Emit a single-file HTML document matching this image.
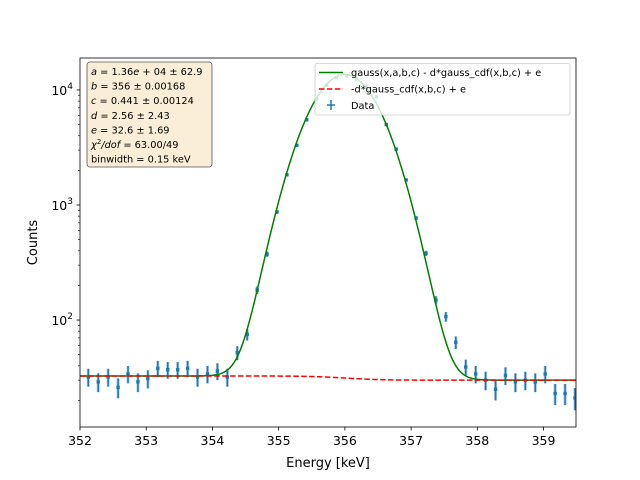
<!DOCTYPE html>
<html><head><meta charset="utf-8"><style>
body{margin:0;background:#fff}
svg{display:block;font-family:"DejaVu Sans","Liberation Sans",sans-serif}
</style></head><body>
<svg id="chart" width="640" height="480" viewBox="0 0 640 480" xmlns="http://www.w3.org/2000/svg"></svg>
<script>
const binCenters = [352.125,352.275,352.425,352.575,352.725,352.875,353.025,353.175,353.325,353.475,353.625,353.775,353.925,354.075,354.225,354.375,354.525,354.675,354.825,354.975,355.125,355.275,355.425,355.575,355.725,355.875,356.025,356.175,356.325,356.475,356.625,356.775,356.925,357.075,357.225,357.375,357.525,357.675,357.825,357.975,358.125,358.275,358.425,358.575,358.725,358.875,359.025,359.175,359.325,359.475];
const counts = [32,29,32,26,34,29,31,38,37,37,38,32,34,36,32,52,75,182,374,870,1830,3300,5500,8300,11000,12800,13300,12500,10800,8700,5000,3060,1650,770,380,149,107,64,39,34,30,25,33,29,30,29,34,23,23,21];
const fitA = 13600, fitB = 356, fitC = 0.441, fitD = 2.56, fitE = 32.6;
const xTicks = [352,353,354,355,356,357,358,359];
const yMajor = [2,3,4];

const svg = document.getElementById('chart');
const NS = 'http://www.w3.org/2000/svg';
const L=80,R=576,T=58,B=427;
const xMin=352,xMax=359.49,yLogMin=1.07,yLogMax=4.278;
const X=v=>L+(v-xMin)/(xMax-xMin)*(R-L);
const Y=v=>B-(Math.log10(v)-yLogMin)/(yLogMax-yLogMin)*(B-T);
function mk(tag,attrs,parent){const e=document.createElementNS(NS,tag);for(const k in attrs)e.setAttribute(k,attrs[k]);(parent||svg).appendChild(e);return e;}
function erf(x){const s=Math.sign(x);x=Math.abs(x);const t=1/(1+0.3275911*x);const y=1-(((((1.061405429*t-1.453152027)*t)+1.421413741)*t-0.284496736)*t+0.254829592)*t*Math.exp(-x*x);return s*y;}
const cdf=x=>0.5*(1+erf((x-fitB)/(fitC*Math.SQRT2)));
const gauss=x=>fitA*Math.exp(-((x-fitB)**2)/(2*fitC*fitC));

const clip=mk('clipPath',{id:'pc'});mk('rect',{x:L,y:T,width:R-L,height:B-T},clip);
const plot=mk('g',{'clip-path':'url(#pc)'});



const dataG=mk('g',{},plot);


binCenters.forEach((x,i)=>{
  const n=counts[i],s=Math.sqrt(n);
  const g=mk('g',{},dataG);
  
  
  mk('line',{x1:X(x),x2:X(x),y1:Y(n+s),y2:Y(Math.max(n-s,1)),stroke:'#a9c9e4','stroke-width':3},g);
  mk('line',{x1:X(x),x2:X(x),y1:Y(n+s),y2:Y(Math.max(n-s,1)),stroke:'#1f77b4','stroke-width':1.5},g);
  mk('rect',{x:X(x)-1.7,y:Y(n)-1.7,width:3.4,height:3.4,fill:'#1f77b4'},g);
});
let pg='',pr='';
for(let i=0;i<=600;i++){const x=xMin+(xMax-xMin)*i/600;const base=fitE-fitD*cdf(x);
  pg+=(i?'L':'M')+X(x).toFixed(2)+','+Y(gauss(x)+base).toFixed(2);
  pr+=(i?'L':'M')+X(x).toFixed(2)+','+Y(base).toFixed(2);}
const gc=mk('path',{d:pg,fill:'none',stroke:'#008000','stroke-width':1.5},plot);


const rc=mk('path',{d:pr,fill:'none',stroke:'#ff0000','stroke-width':1.5,'stroke-dasharray':'5.5,2.4'},plot);



const fr=mk('rect',{x:L,y:T,width:R-L,height:B-T,fill:'none',stroke:'#000','stroke-width':0.8});


xTicks.forEach(t=>{
  mk('line',{x1:X(t),x2:X(t),y1:B,y2:B+3.5,stroke:'#000','stroke-width':0.8});
  const tx=mk('text',{x:X(t),y:B+18,'font-size':12.5,'text-anchor':'middle'});tx.textContent=t;
  
  
});
for(let d=1;d<=4;d++)for(let m=1;m<10;m++){const v=m*10**d;const lv=Math.log10(v);if(lv<yLogMin||lv>yLogMax)continue;
  mk('line',{x1:L-(m===1?3.5:2),x2:L,y1:Y(v),y2:Y(v),stroke:'#000','stroke-width':m===1?0.8:0.6});}
yMajor.forEach(p=>{
  const tx=mk('text',{x:L-7,y:Y(10**p)+5,'font-size':12.5,'text-anchor':'end'});
  tx.innerHTML='10<tspan dy="-6" font-size="9">'+p+'</tspan>';
  
  
});
const xl=mk('text',{x:(L+R)/2,y:467,'font-size':13,'text-anchor':'middle'});xl.textContent='Energy [keV]';


const yl=mk('text',{x:0,y:0,'font-size':13,'text-anchor':'middle',transform:`translate(37,${(T+B)/2}) rotate(-90)`});yl.textContent='Counts';



const lg=mk('g',{});


mk('rect',{x:315,y:63.5,width:255,height:51.5,rx:2,fill:'#fff','fill-opacity':0.8,stroke:'#ccc','stroke-width':0.8},lg);
mk('line',{x1:319,x2:343,y1:72.5,y2:72.5,stroke:'#008000','stroke-width':1.5},lg);
mk('line',{x1:319,x2:343,y1:89,y2:89,stroke:'#ff0000','stroke-width':1.5,'stroke-dasharray':'5.5,2.4'},lg);
mk('line',{x1:331,x2:331,y1:100,y2:110,stroke:'#1f77b4','stroke-width':1.5},lg);
mk('line',{x1:327,x2:335,y1:105,y2:105,stroke:'#1f77b4','stroke-width':1.5},lg);
[['gauss(x,a,b,c) - d*gauss_cdf(x,b,c) + e',76,'legend-entry-fit'],['-d*gauss_cdf(x,b,c) + e',92.5,'legend-entry-background'],['Data',109,'legend-entry-data']].forEach(([s,y,n])=>{
  const t=mk('text',{x:351,y:y,'font-size':9.8},lg);t.textContent=s;
  
  
});

const pb=mk('g',{});


mk('rect',{x:87,y:62,width:125,height:105,rx:3,fill:'#f5deb3','fill-opacity':0.5,stroke:'#555','stroke-width':0.8},pb);
const lines=[
 '<tspan font-style="italic">a</tspan> = 1.36<tspan font-style="italic">e</tspan> + 04 ± 62.9',
 '<tspan font-style="italic">b</tspan> = 356 ± 0.00168',
 '<tspan font-style="italic">c</tspan> = 0.441 ± 0.00124',
 '<tspan font-style="italic">d</tspan> = 2.56 ± 2.43',
 '<tspan font-style="italic">e</tspan> = 32.6 ± 1.69',
 '<tspan font-style="italic">χ</tspan><tspan dy="-4" font-size="7">2</tspan><tspan dy="4" font-style="italic">/dof</tspan> = 63.00/49',
 'binwidth = 0.15 keV'];
lines.forEach((s,i)=>{const t=mk('text',{x:91,y:75+i*14.6,'font-size':9.8},pb);t.innerHTML=s;
  
  });
</script>
</body></html>
